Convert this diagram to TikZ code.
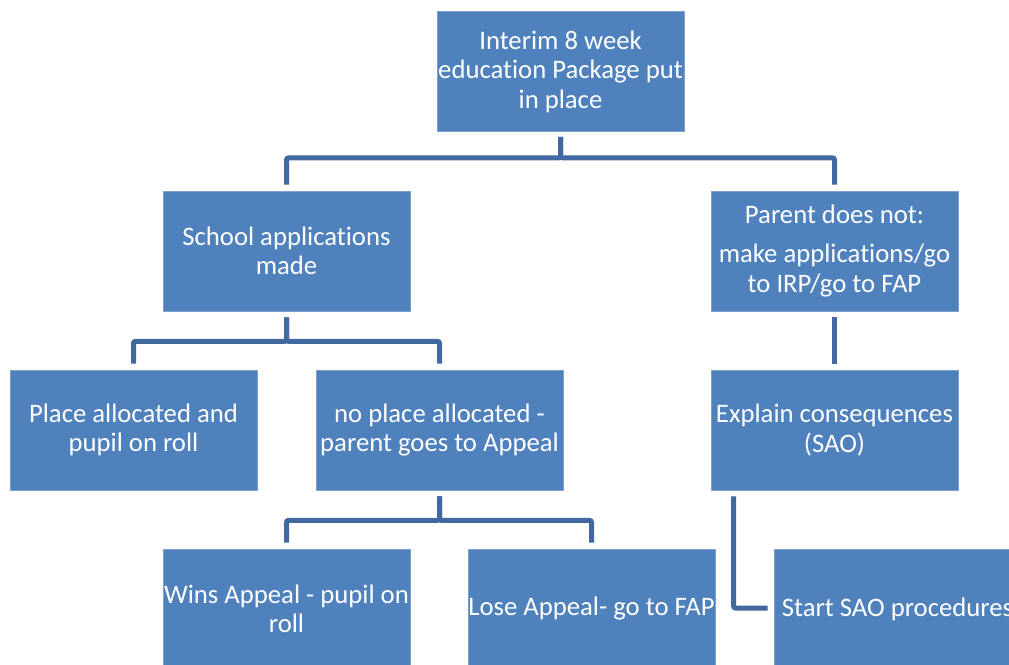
\documentclass[tikz,border=0pt]{standalone}
\usepackage{fontspec}
\setmainfont{Carlito}[Ligatures=NoCommon]
\definecolor{boxfill}{RGB}{79,129,189}
\definecolor{boxedge}{RGB}{126,160,205}
\definecolor{linkcol}{RGB}{65,105,160}
\begin{document}
\begin{tikzpicture}[x=1pt,y=1pt,
 box/.style={rectangle, fill=boxfill, draw=boxedge, line width=0.8pt,
   minimum width=247pt, minimum height=120pt, inner sep=0pt, text=white,
   align=center, font=\fontsize{26.7}{29.5}\selectfont},
 link/.style={draw=linkcol, line width=5pt, rounded corners=2pt}]
\useasboundingbox (0,0) rectangle (1009,-664);
\clip (0,0) rectangle (1009,-664);
\fill[white] (0,0) rectangle (1009,-664);
\node[box] (top) at (560.5,-71.5) {Interim 8 week\\education Package put\\in place};
\node[box] (school) at (286.5,-251) {School applications\\made};
\node[box] (parent) at (834.5,-251) {Parent does not:\\[10pt]make applications/go\\to IRP/go to FAP};
\node[box] (place) at (133.5,-430) {Place allocated and\\pupil on roll};
\node[box] (noplace) at (439.5,-430) {no place allocated -\\parent goes to Appeal};
\node[box] (explain) at (834.5,-430) {Explain consequences\\(SAO)};
\node[box] (wins) at (286.5,-609) {Wins Appeal - pupil on\\roll};
\node[box] (lose) at (591.5,-609) {Lose Appeal- go to FAP};
\node[box] (start) at (897.5,-609) {Start SAO procedures};
\draw[link] ([yshift=-5pt]top.south) -- ++(0,-21) -| ([yshift=6pt]school.north);
\draw[link] ([yshift=-5pt]top.south) -- ++(0,-21) -| ([yshift=6pt]parent.north);
\draw[link] ([yshift=-6pt]school.south) -- ++(0,-24) -| ([yshift=6pt]place.north);
\draw[link] ([yshift=-6pt]school.south) -- ++(0,-24) -| ([yshift=6pt]noplace.north);
\draw[link] ([yshift=-6pt]parent.south) -- ([yshift=6pt]explain.north);
\draw[link] ([yshift=-6pt]noplace.south) -- ++(0,-24) -| ([yshift=6pt]wins.north);
\draw[link] ([yshift=-6pt]noplace.south) -- ++(0,-24) -| ([yshift=6pt]lose.north);
\draw[link] ([xshift=23pt,yshift=-6pt]explain.south west) |- ([xshift=-6pt,yshift=1pt]start.west);
\end{tikzpicture}
\end{document}
